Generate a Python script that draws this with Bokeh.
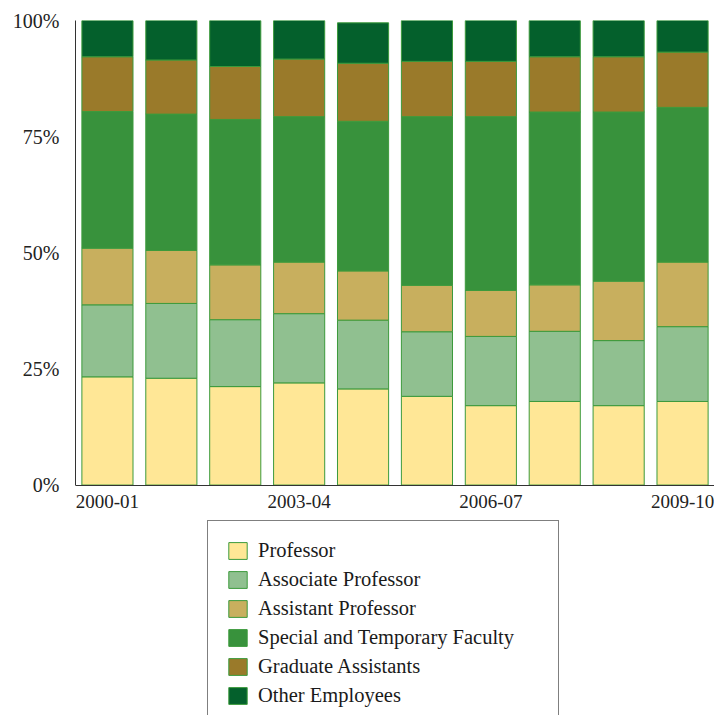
from bokeh.plotting import figure
from bokeh.models import ColumnDataSource, FixedTicker, Legend, Range1d
from bokeh.embed import file_html
from bokeh.resources import INLINE

years = ["2000-01", "2001-02", "2002-03", "2003-04", "2004-05",
         "2005-06", "2006-07", "2007-08", "2008-09", "2009-10"]
categories = ["Professor", "Associate Professor", "Assistant Professor",
              "Special and Temporary Faculty", "Graduate Assistants", "Other Employees"]
professor = [23.3, 23.0, 21.2, 22.0, 20.7, 19.1, 17.1, 18.0, 17.1, 18.0]
associate = [15.5, 16.1, 14.4, 14.9, 14.8, 13.9, 14.9, 15.1, 14.0, 16.1]
assistant = [12.2, 11.4, 11.8, 11.1, 10.6, 10.0, 9.9, 10.0, 12.8, 13.9]
special = [29.4, 29.35, 31.3, 31.3, 32.2, 36.3, 37.4, 37.2, 36.4, 33.3]
graduate = [11.8, 11.65, 11.4, 12.4, 12.5, 11.9, 11.9, 11.9, 11.9, 11.9]
other = [7.8, 8.6, 10.1, 8.6, 8.7, 9.1, 9.1, 8.1, 8.1, 7.1]
colors = ["#FFE796", "#90C090", "#C8AF5E", "#38923C", "#9A7A2A", "#04602C"]
shown_years = ["2000-01", "2003-04", "2006-07", "2009-10"]
y_ticks = [0, 25, 50, 75, 100]
y_labels = ["0%", "25%", "50%", "75%", "100%"]

FONT = "Liberation Serif"

xs = list(range(len(years)))
keys = ["p", "a", "s", "t", "g", "o"]
data = dict(x=xs, p=professor, a=associate, s=assistant, t=special, g=graduate, o=other)
source = ColumnDataSource(data)

# frame spans to the bottom of the canvas; the area below 0 holds the legend
p = figure(width=714, height=715, output_backend="svg", toolbar_location=None,
           x_range=Range1d(-0.5, 9.5), y_range=Range1d(-49.6, 100),
           min_border_left=75, min_border_right=0, min_border_top=20,
           min_border_bottom=0)
p.outline_line_color = None
p.xgrid.grid_line_color = None
p.ygrid.grid_line_color = None

rs = p.vbar_stack(keys, x="x", width=0.8, source=source, color=colors,
                  line_color="#3C9A3C", line_width=1)

# axes
p.xaxis.fixed_location = 0
p.yaxis.bounds = (0, 100)
p.xaxis.ticker = FixedTicker(ticks=[years.index(y) for y in shown_years])
p.xaxis.major_label_overrides = {years.index(y): y for y in shown_years}
p.yaxis.ticker = FixedTicker(ticks=y_ticks)
p.yaxis.major_label_overrides = dict(zip(y_ticks, y_labels))
for ax in (p.xaxis, p.yaxis):
    ax.axis_line_color = "#333333"
    ax.axis_line_width = 1
    ax.major_tick_line_color = None
    ax.minor_tick_line_color = None
    ax.major_tick_out = 0
    ax.major_tick_in = 0
    ax.major_label_text_font = FONT
    ax.major_label_text_color = "#222222"
p.yaxis.major_label_text_font_size = "20px"
p.xaxis.major_label_text_font_size = "19px"
p.yaxis.major_label_standoff = 16
p.xaxis.major_label_standoff = 10

legend = Legend(items=[(c, [r]) for c, r in zip(categories, rs)],
                location=(132, -11), orientation="vertical",
                label_text_font=FONT, label_text_font_size="20.5px",
                label_text_color="#1a1a1a",
                glyph_width=23, glyph_height=21, label_standoff=9,
                label_height=21, spacing=6, padding=18, margin=0,
                border_line_color="#000000", border_line_width=1.3,
                background_fill_color="white", background_fill_alpha=1,
                label_width=282)
p.add_layout(legend, "center")

open("out.html", "w").write(file_html(p, INLINE))
